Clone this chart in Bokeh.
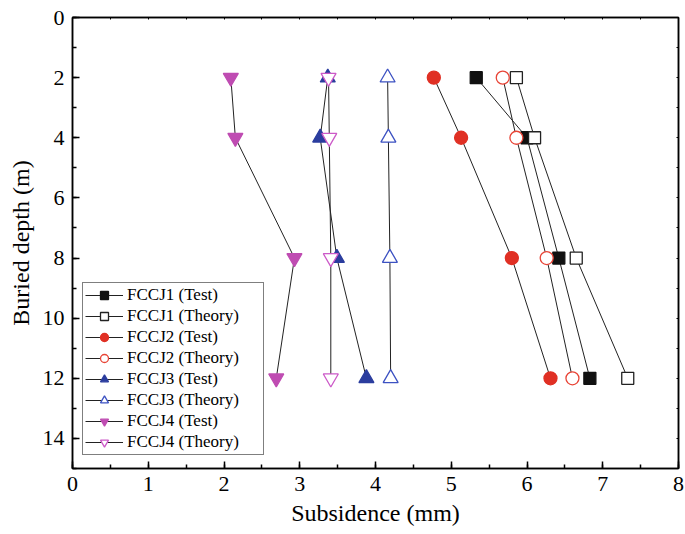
import numpy as np
from bokeh.plotting import figure
from bokeh.models import Range1d, LinearAxis, SingleIntervalTicker, FixedTicker, Legend, LegendItem
from bokeh.embed import file_html
from bokeh.resources import INLINE

depth = [2, 4, 8, 12]
fccj1_test = [5.33, 6.00, 6.42, 6.83]
fccj1_theory = [5.86, 6.10, 6.65, 7.33]
fccj2_test = [4.77, 5.13, 5.80, 6.31]
fccj2_theory = [5.68, 5.86, 6.26, 6.60]
fccj3_test = [3.37, 3.27, 3.49, 3.88]
fccj3_theory = [4.16, 4.17, 4.19, 4.20]
fccj4_test = [2.09, 2.15, 2.93, 2.69]
fccj4_theory = [3.38, 3.39, 3.41, 3.41]

names = ["FCCJ1 (Test)", "FCCJ1 (Theory)", "FCCJ2 (Test)", "FCCJ2 (Theory)",
         "FCCJ3 (Test)", "FCCJ3 (Theory)", "FCCJ4 (Test)", "FCCJ4 (Theory)"]
series = [fccj1_test, fccj1_theory, fccj2_test, fccj2_theory,
          fccj3_test, fccj3_theory, fccj4_test, fccj4_theory]
styles = [
    ("square", "#111111", "#111111", 12),
    ("square", "#222222", "white", 12),
    ("circle", "#e03024", "#e03024", 13),
    ("circle", "#e84436", "white", 13),
    ("triangle", "#2b3d9e", "#2b3d9e", 15),
    ("triangle", "#3d52c2", "white", 15),
    ("inverted_triangle", "#bf4cb2", "#bf4cb2", 15),
    ("inverted_triangle", "#cc5ac8", "white", 15),
]

FONT = "Liberation Serif"

p = figure(width=685, height=534, output_backend="svg", toolbar_location=None,
           x_range=Range1d(0, 8), y_range=Range1d(15, 0),
           min_border_left=72, min_border_right=7, min_border_top=17, min_border_bottom=66)
p.grid.visible = False
p.outline_line_color = "black"
p.outline_line_width = 1.5

p.xaxis.ticker = SingleIntervalTicker(interval=1, num_minor_ticks=2)
p.yaxis.ticker = SingleIntervalTicker(interval=2, num_minor_ticks=2)
for ax in (p.xaxis[0], p.yaxis[0]):
    ax.major_tick_in = 7
    ax.major_tick_out = 0
    ax.minor_tick_in = 4
    ax.minor_tick_out = 0
    ax.axis_line_width = 1.5
    ax.major_tick_line_width = 1.5
    ax.minor_tick_line_width = 1.5
    ax.major_label_text_font = FONT
    ax.major_label_text_font_size = "22px"
    ax.major_label_text_color = "black"
    ax.axis_label_text_font = FONT
    ax.axis_label_text_font_size = "24px"
    ax.axis_label_text_font_style = "normal"
    ax.axis_label_text_color = "black"
    ax.axis_label_standoff = 6
    ax.major_label_standoff = 8
p.xaxis.axis_label = "Subsidence (mm)"
p.yaxis.axis_label = "Buried depth (m)"

top = LinearAxis(ticker=FixedTicker(ticks=[], minor_ticks=list(np.arange(0.5, 8, 0.5))),
                 major_tick_in=0, major_tick_out=0,
                 minor_tick_in=2, minor_tick_out=0, axis_line_width=1.5)
right = LinearAxis(ticker=FixedTicker(ticks=[], minor_ticks=list(np.arange(1, 15, 1))),
                   major_tick_in=0, major_tick_out=0,
                   minor_tick_in=2, minor_tick_out=0, axis_line_width=1.5)
p.add_layout(top, "above")
p.add_layout(right, "right")

items = []
for name, xs, (mk, lc, fc, sz) in zip(names, series, styles):
    ln = p.line(xs, depth, line_color="#222222", line_width=1)
    sc = p.scatter(xs, depth, marker=mk, size=sz, line_color=lc, fill_color=fc, line_width=1.3)
    items.append(LegendItem(label=name, renderers=[ln, sc]))

legend = Legend(items=items, location=(10, 13))
legend.label_text_font = FONT
legend.label_text_font_size = "17px"
legend.label_text_color = "black"
legend.border_line_color = "black"
legend.border_line_width = 1
legend.background_fill_alpha = 1
legend.glyph_width = 38
legend.glyph_height = 20
legend.label_height = 20
legend.label_width = 134
legend.spacing = 1
legend.padding = 2
legend.margin = 0
legend.label_standoff = 4
p.add_layout(legend)

open("out.html", "w").write(file_html(p, INLINE))
